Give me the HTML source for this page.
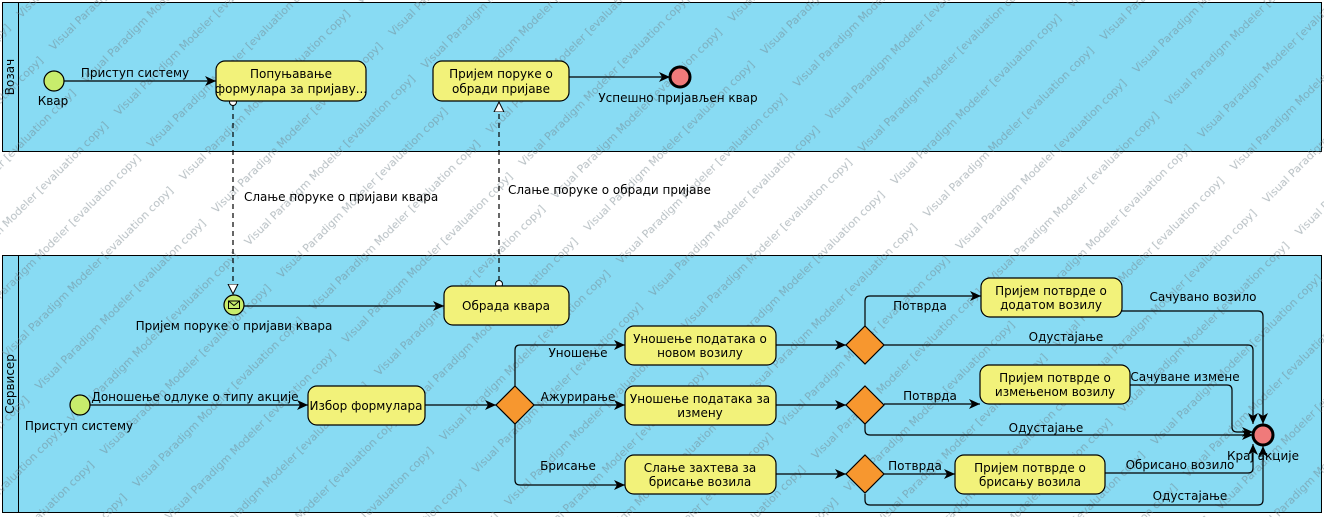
<!DOCTYPE html>
<html><head><meta charset="utf-8"><style>
html,body{margin:0;padding:0;background:#fff;}
svg{display:block;font-family:"DejaVu Sans","Liberation Sans",sans-serif;font-size:12px;}
</style></head><body>
<svg width="1324" height="517" viewBox="0 0 1324 517" xmlns="http://www.w3.org/2000/svg">
<defs>
<marker id="a" markerWidth="12" markerHeight="10" refX="11" refY="5" orient="auto" markerUnits="userSpaceOnUse"><path d="M0,0 L11,5 L0,10 L3,5 z" fill="#000"/></marker>
<marker id="h" markerWidth="12" markerHeight="12" refX="10" refY="6" orient="auto" markerUnits="userSpaceOnUse"><path d="M0,1 L10,6 L0,11 z" fill="#fff" stroke="#000"/></marker>
<pattern id="wm" width="250" height="46" patternUnits="userSpaceOnUse" patternTransform="rotate(-45)">
<text x="2" y="28" font-size="11" fill="#6f8088" opacity="0.5">Visual Paradigm Modeler [evaluation copy]</text>
</pattern>
</defs>
<rect x="2.5" y="2.5" width="1319" height="149" fill="#88dbf3" stroke="#000"/>
<line x1="18.5" y1="2.5" x2="18.5" y2="151.5" stroke="#000"/>
<text transform="translate(14,77) rotate(-90)" text-anchor="middle">Возач</text>
<rect x="2.5" y="255.5" width="1319" height="257" fill="#88dbf3" stroke="#000"/>
<line x1="18.5" y1="255.5" x2="18.5" y2="512.5" stroke="#000"/>
<text transform="translate(14,384) rotate(-90)" text-anchor="middle">Сервисер</text>
<rect x="0" y="0" width="1324" height="517" fill="url(#wm)"/>

<g stroke="#000" fill="none" stroke-width="1.2">
<line x1="64" y1="81" x2="216" y2="81" marker-end="url(#a)"/>
<line x1="569" y1="77" x2="670" y2="77" marker-end="url(#a)"/>
<line x1="233" y1="105" x2="233" y2="294" stroke-dasharray="5,4" marker-end="url(#h)"/>
<line x1="499" y1="281" x2="499" y2="102" stroke-dasharray="5,4" marker-end="url(#h)"/>
<line x1="244" y1="306" x2="444" y2="306" marker-end="url(#a)"/>
<line x1="90" y1="405" x2="308" y2="405" marker-end="url(#a)"/>
<line x1="425" y1="405" x2="496" y2="405" marker-end="url(#a)"/>
<path d="M515,386 V350 Q515,345 520,345 H625" marker-end="url(#a)"/>
<line x1="534" y1="405" x2="625" y2="405" marker-end="url(#a)"/>
<path d="M515,424 V480 Q515,485 520,485 H625" marker-end="url(#a)"/>
<line x1="776" y1="345" x2="846" y2="345" marker-end="url(#a)"/>
<line x1="776" y1="405" x2="846" y2="405" marker-end="url(#a)"/>
<line x1="776" y1="474" x2="846" y2="474" marker-end="url(#a)"/>
<path d="M865,326 V301 Q865,296 870,296 H981" marker-end="url(#a)"/>
<path d="M1122,311 H1258 Q1263,311 1263,316 V424" marker-end="url(#a)"/>
<path d="M884,345 H1248 Q1253,345 1253,350 V424" marker-end="url(#a)"/>
<line x1="884" y1="404" x2="980" y2="404" marker-end="url(#a)"/>
<path d="M1130,385 H1227 Q1232,385 1232,390 V427 Q1232,432 1237,432 H1253" marker-end="url(#a)"/>
<path d="M865,424 V430 Q865,435 870,435 H1253" marker-end="url(#a)"/>
<line x1="884" y1="474" x2="955" y2="474" marker-end="url(#a)"/>
<path d="M1105,473 H1248 Q1253,473 1253,468 V444" marker-end="url(#a)"/>
<path d="M865,494 V500 Q865,505 870,505 H1258 Q1263,505 1263,500 V446" marker-end="url(#a)"/>
</g>
<circle cx="233" cy="102" r="3.5" fill="#fff" stroke="#000"/>
<circle cx="499" cy="284" r="3.5" fill="#fff" stroke="#000"/>

<circle cx="54" cy="81" r="10" fill="#c8ec6c" stroke="#000" stroke-width="1.2"/>
<circle cx="80" cy="405" r="10" fill="#c8ec6c" stroke="#000" stroke-width="1.2"/>
<circle cx="234" cy="305" r="10" fill="#c8ec6c" stroke="#000" stroke-width="1.2"/>
<rect x="228.5" y="301" width="11" height="7.5" fill="none" stroke="#000"/>
<path d="M228.5,301 L234,305.5 L239.5,301" fill="none" stroke="#000"/>
<circle cx="680" cy="77" r="10" fill="#f07a7a" stroke="#000" stroke-width="3"/>
<circle cx="1263" cy="435" r="10" fill="#f07a7a" stroke="#000" stroke-width="3"/>

<g fill="#f2f27a" stroke="#000" stroke-width="1.2">
<rect x="216" y="61" width="150" height="40" rx="9"/>
<rect x="433" y="61" width="136" height="40" rx="9"/>
<rect x="444" y="286" width="125" height="39" rx="9"/>
<rect x="308" y="386" width="117" height="39" rx="9"/>
<rect x="625" y="326" width="151" height="39" rx="9"/>
<rect x="625" y="386" width="151" height="39" rx="9"/>
<rect x="625" y="455" width="151" height="39" rx="9"/>
<rect x="981" y="278" width="141" height="39" rx="9"/>
<rect x="980" y="365" width="150" height="39" rx="9"/>
<rect x="955" y="455" width="150" height="39" rx="9"/>
</g>
<g fill="#f7972f" stroke="#000" stroke-width="1.2">
<path d="M515,386 L534,405 L515,424 L496,405 z"/>
<path d="M865,326 L884,345 L865,364 L846,345 z"/>
<path d="M865,386 L884,405 L865,424 L846,405 z"/>
<path d="M865,455 L884,474 L865,493 L846,474 z"/>
</g>

<g fill="#000" text-anchor="middle">
<text x="291" y="78">Попуњавање</text>
<text x="291" y="93">формулара за пријаву...</text>
<text x="501" y="78">Пријем поруке о</text>
<text x="501" y="93">обради пријаве</text>
<text x="506" y="310">Обрада квара</text>
<text x="366" y="410">Избор формулара</text>
<text x="700" y="343">Уношење података о</text>
<text x="700" y="357">новом возилу</text>
<text x="700" y="403">Уношење података за</text>
<text x="700" y="417">измену</text>
<text x="700" y="472">Слање захтева за</text>
<text x="700" y="486">брисање возила</text>
<text x="1051" y="295">Пријем потврде о</text>
<text x="1051" y="309">додатом возилу</text>
<text x="1055" y="382">Пријем потврде о</text>
<text x="1055" y="396">измењеном возилу</text>
<text x="1030" y="472">Пријем потврде о</text>
<text x="1030" y="486">брисању возила</text>
<text x="53" y="105">Квар</text>
<text x="135" y="77">Приступ систему</text>
<text x="678" y="102">Успешно пријављен квар</text>
<text x="234" y="330">Пријем поруке о пријави квара</text>
<text x="79" y="430">Приступ систему</text>
<text x="195" y="401">Доношење одлуке о типу акције</text>
<text x="578" y="357">Уношење</text>
<text x="578" y="401">Ажурирање</text>
<text x="568" y="470">Брисање</text>
<text x="920" y="310">Потврда</text>
<text x="930" y="400">Потврда</text>
<text x="915" y="470">Потврда</text>
<text x="1066" y="341">Одустајање</text>
<text x="1046" y="432">Одустајање</text>
<text x="1190" y="500">Одустајање</text>
<text x="1203" y="301">Сачувано возило</text>
<text x="1185" y="381">Сачуване измене</text>
<text x="1180" y="469">Обрисано возило</text>
<text x="1263" y="460">Крај акције</text>
</g>
<g fill="#000">
<text x="244" y="201">Слање поруке о пријави квара</text>
<text x="508" y="194">Слање поруке о обради пријаве</text>
</g>
</svg>
</body></html>
